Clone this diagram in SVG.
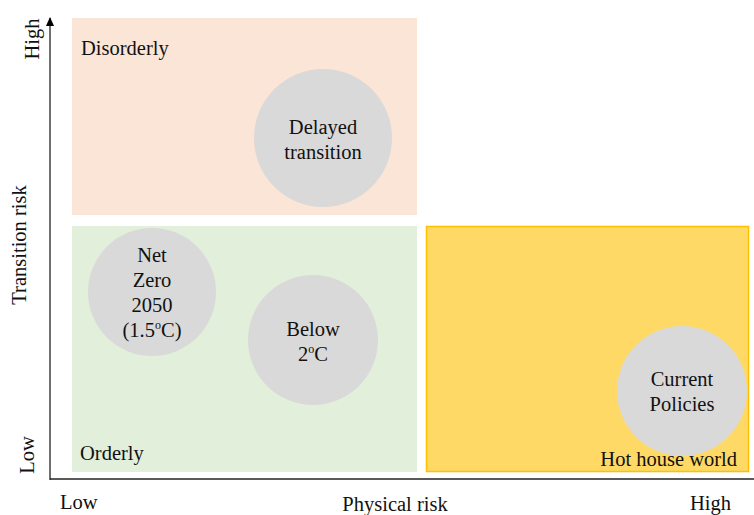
<svg xmlns="http://www.w3.org/2000/svg" width="754" height="515" viewBox="0 0 754 515">
<style>
text{font-family:'Liberation Serif','Times New Roman',serif;font-size:20.5px;fill:#111}
.c{text-anchor:middle}
.bub{fill:#D9D9D9}
.ax{stroke:#222;stroke-width:1.3;fill:none}
</style>
<defs>
<marker id="ah" markerWidth="9" markerHeight="8" refX="8" refY="4" orient="auto" markerUnits="userSpaceOnUse" viewBox="0 0 9 8">
<path d="M0,0 L9,4 L0,8 Z" fill="#000"/>
</marker>
</defs>
<g id="quadrants">
<rect id="disorderly" x="72" y="18" width="345" height="197" fill="#FBE5D6"/>
<rect id="orderly" x="72" y="226" width="345" height="246" fill="#E2EFDA"/>
<rect id="hothouse" x="426.5" y="226.5" width="322" height="245" fill="#FFD966" stroke="#FFC000" stroke-width="1.5"/>
</g>
<g id="connectors">
<line class="ax" x1="50" y1="480" x2="50" y2="18" marker-end="url(#ah)"/>
<line class="ax" x1="50" y1="479" x2="754" y2="479"/>
</g>
<g id="labels">
<text x="81" y="55">Disorderly</text>
<text x="80" y="460">Orderly</text>
<text x="737" y="466" text-anchor="end">Hot house world</text>
<text x="60" y="509">Low</text>
<text x="395" y="511" class="c">Physical risk</text>
<text x="690" y="510">High</text>
<text class="c" transform="translate(39,39) rotate(-90)">High</text>
<text class="c" transform="translate(26,245) rotate(-90)">Transition risk</text>
<text class="c" transform="translate(34,455) rotate(-90)">Low</text>
</g>
<g id="delayed">
<circle class="bub" cx="323" cy="138" r="69"/>
<text class="c" x="323" y="134">Delayed</text>
<text class="c" x="323" y="159">transition</text>
</g>
<g id="netzero">
<circle class="bub" cx="152" cy="292" r="64"/>
<text class="c" x="152" y="262">Net</text>
<text class="c" x="152" y="287">Zero</text>
<text class="c" x="152" y="312">2050</text>
<text class="c" x="152" y="337">(1.5<tspan font-size="12" dy="-8">o</tspan><tspan dy="8">C)</tspan></text>
</g>
<g id="below2">
<circle class="bub" cx="313" cy="340" r="65"/>
<text class="c" x="313" y="336">Below</text>
<text class="c" x="313" y="361">2<tspan font-size="12" dy="-8">o</tspan><tspan dy="8">C</tspan></text>
</g>
<g id="current">
<circle class="bub" cx="682" cy="391" r="65"/>
<text class="c" x="682" y="386">Current</text>
<text class="c" x="682" y="411">Policies</text>
</g>
</svg>
